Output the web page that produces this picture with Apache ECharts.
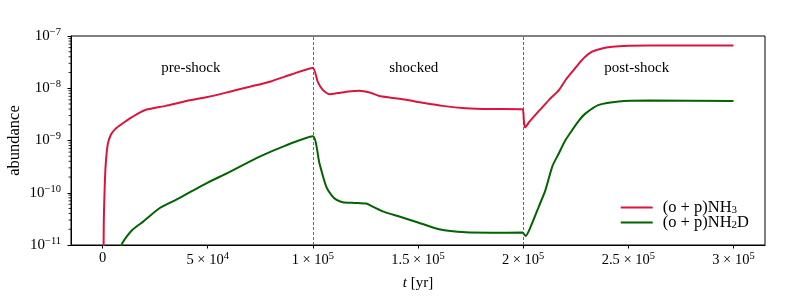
<!DOCTYPE html>
<html><head><meta charset="utf-8">
<script src="https://cdn.jsdelivr.net/npm/echarts@6/dist/echarts.min.js"></script>
<style>html,body{margin:0;padding:0;background:#fff}#c{width:789px;height:296px}</style>
</head><body><div id="c"></div>
<script>
// ---- data ----
const tNH3 = [300,600,1000,1500,2500,4000,6000,9000,14000,20000,30000,40000,50000,60000,70000,80000,90000,100000,
  102300,104700,107900,112000,117000,122000,127000,131600,137000,144300,152000,161700,172800,185000,199700,
  200300,200900,203000,207000,209100,212300,217000,220200,223500,226500,229500,232800,237000,242300,250000,260000,300000];
const vNH3 = [1e-12,3e-11,1.2e-10,3.5e-10,8.5e-10,1.3e-9,1.65e-9,2.05e-9,2.8e-9,3.8e-9,4.6e-9,5.7e-9,6.8e-9,8.5e-9,1.07e-8,1.35e-8,1.85e-8,2.45e-8,
  1.34e-8,9.3e-9,7.7e-9,8.1e-9,8.7e-9,9.0e-9,8.3e-9,7.1e-9,6.6e-9,6.0e-9,5.3e-9,4.6e-9,4.15e-9,4.0e-9,3.95e-9,
  2.5e-9,1.77e-9,2.3e-9,3.5e-9,4.3e-9,6.0e-9,9.2e-9,1.44e-8,2.1e-8,2.97e-8,4.0e-8,5.0e-8,5.7e-8,6.2e-8,6.5e-8,6.6e-8,6.6e-8];
const tNH2D = [7000,9000,10600,14500,19300,27200,35100,42000,49800,60000,74700,87000,100000,
  103100,106300,109000,111100,114200,120000,125300,129000,133200,141100,150000,160100,172800,185000,199700,
  201200,203500,207500,210500,214000,217000,220000,223400,226500,229700,236000,245500,260000,300000];
const vNH2D = [5e-12,1e-11,1.3e-11,2.0e-11,2.8e-11,5.1e-11,7.4e-11,1.05e-10,1.55e-10,2.45e-10,4.9e-10,8e-10,1.2e-9,
  3.7e-10,1.33e-10,8.8e-11,7.4e-11,6.6e-11,6.4e-11,6.2e-11,5.3e-11,4.4e-11,3.5e-11,2.7e-11,2.0e-11,1.75e-11,1.72e-11,1.73e-11,
  1.48e-11,2.2e-11,5.5e-11,1.1e-10,3.3e-10,5.7e-10,1.0e-9,1.6e-9,2.4e-9,3.3e-9,4.8e-9,5.6e-9,5.8e-9,5.7e-9];
const xTicks = [0,50000,100000,150000,200000,250000,300000];
const xTickText = ['0','5 × 10{sup|4}','1 × 10{sup|5}','1.5 × 10{sup|5}','2 × 10{sup|5}','2.5 × 10{sup|5}','3 × 10{sup|5}'];
const shockTimes = [100000,200000];
const regionNames = ['pre-shock','shocked','post-shock'];
const regionT = [42000,148000,254000];
const regionY = 2.4e-8;
const minorTicks = [];
for (let e = -11; e < -7; e++) for (let m = 2; m <= 9; m++) minorTicks.push(m * Math.pow(10, e));

const F = '"Liberation Serif", "DejaVu Serif", serif';
const zip = (a, b) => a.map((x, i) => [x, b[i]]);
const chart = echarts.init(document.getElementById('c'), null, {renderer: 'canvas'});
const supRich = {sup: {fontSize: 10.5, fontFamily: F, color: '#000', padding: [0, 0, 8, 0]}};

chart.setOption({
  animation: false,
  grid: {left: 71, right: 24, top: 36, bottom: 51, containLabel: false, outerBoundsMode: 'none',
    show: true, borderColor: '#000', borderWidth: 1, backgroundColor: 'transparent'},
  xAxis: {
    type: 'value', min: -15000, max: 315000,
    name: '{i|t} [yr]', nameLocation: 'middle', nameGap: 31,
    nameTextStyle: {fontFamily: F, fontSize: 15, color: '#000', rich: {i: {fontStyle: 'italic', fontFamily: F, fontSize: 15, color: '#000'}}},
    axisLine: {onZero: false, lineStyle: {color: '#000', width: 1}},
    axisTick: {show: true, length: 3.5, customValues: xTicks, lineStyle: {color: '#000'}},
    axisLabel: {customValues: xTicks, margin: 6, fontFamily: F, fontSize: 14.5, color: '#000',
      formatter: v => xTickText[xTicks.indexOf(v)], rich: supRich},
    splitLine: {show: false}
  },
  yAxis: {
    type: 'log', logBase: 10, min: 1e-11, max: 1e-7, interval: 1,
    name: 'abundance', nameLocation: 'middle', nameGap: 48, nameRotate: 90, nameMoveOverlap: false,
    nameTextStyle: {fontFamily: F, fontSize: 16.5, color: '#000'},
    axisLine: {show: true, onZero: false, lineStyle: {color: '#000', width: 1}},
    axisTick: {show: true, length: 3.5, lineStyle: {color: '#000'}},
    axisLabel: {margin: 10, fontFamily: F, fontSize: 15, color: '#000',
      formatter: v => '10{sup|−' + Math.round(-Math.log10(v)) + '}', rich: supRich},
    minorTick: {show: false},
    splitLine: {show: false}
  },
  legend: {
    orient: 'vertical', right: 35, top: 194, itemWidth: 32, itemHeight: 2, itemGap: -2,
    data: [{name: 'NH3', icon: 'rect'}, {name: 'NH2D', icon: 'rect'}],
    formatter: n => n === 'NH3' ? '(o + p)NH{sub|3}' : '(o + p)NH{sub|2}D',
    textStyle: {fontFamily: F, fontSize: 16.5, color: '#000', padding: [0, 0, 0, 5],
      rich: {sub: {fontSize: 11, fontFamily: F, color: '#000', padding: [6, 0, 0, 0]}}}
  },
  series: [
    {
      name: 'NH3', type: 'line', data: zip(tNH3, vNH3), showSymbol: false, symbol: 'none', smooth: 0.2,
      lineStyle: {color: '#DC143C', width: 2}, itemStyle: {color: '#DC143C'}, clip: true, z: 3,
      markLine: {silent: true, symbol: 'none', label: {show: false},
        lineStyle: {color: '#444', width: 0.8, type: [3, 2]},
        data: shockTimes.map(t => ({xAxis: t}))},
      markPoint: {silent: true, symbol: 'circle', symbolSize: 0,
        label: {show: true, position: 'inside', fontFamily: F, fontSize: 15, color: '#000', formatter: '{b}'},
        data: regionNames.map((n, i) => ({name: n, coord: [regionT[i], regionY]}))}
    },
    {
      name: 'NH2D', type: 'line', data: zip(tNH2D, vNH2D), showSymbol: false, symbol: 'none', smooth: 0.2,
      lineStyle: {color: '#006400', width: 2}, itemStyle: {color: '#006400'}, clip: true, z: 3
    },
    {
      type: 'custom', silent: true, clip: false, z: 10, data: minorTicks.map(v => [-15000, v]),
      renderItem: (params, api) => {
        const p = api.coord([-15000, api.value(1)]);
        return {type: 'line', shape: {x1: p[0] - 2.5, y1: p[1], x2: p[0], y2: p[1]}, style: {stroke: '#000', lineWidth: 0.8}};
      }
    }
  ]
});
</script></body></html>
